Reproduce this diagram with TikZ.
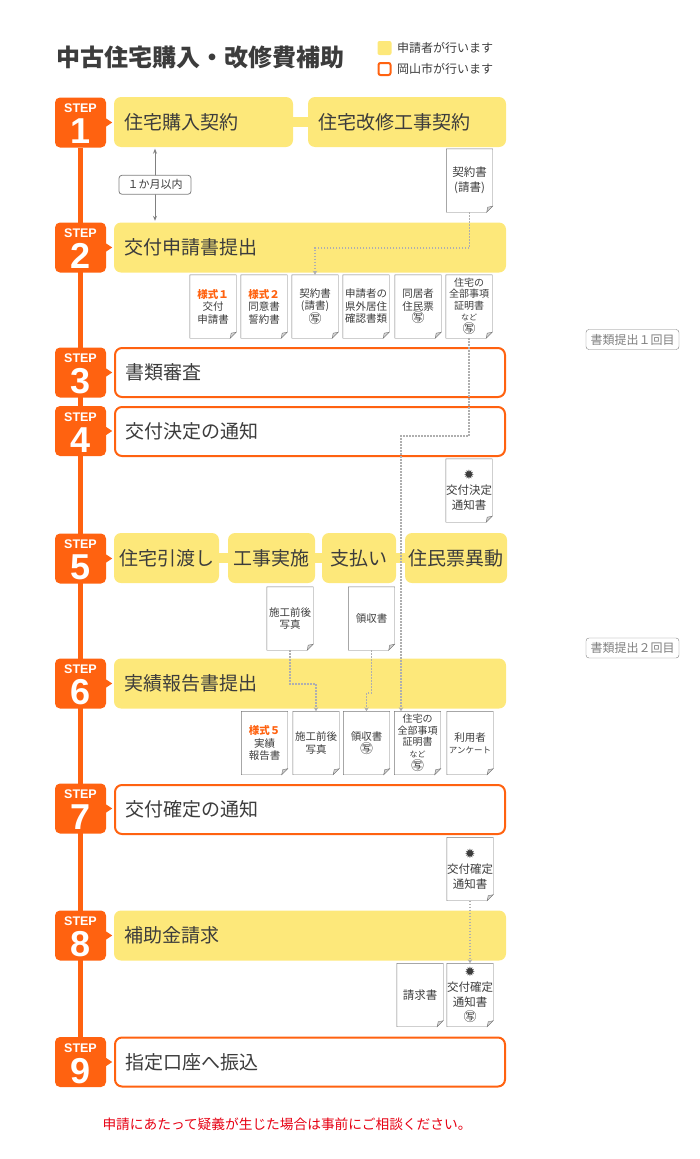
\documentclass[tikz,border=0pt]{standalone}
\usepackage{fontspec}
\setmainfont{Noto Sans CJK JP}
\newfontfamily\stepfont{Liberation Sans}
\newfontfamily\symfont{DejaVu Sans}
\usetikzlibrary{arrows.meta,backgrounds}
\definecolor{stepor}{RGB}{255,98,16}
\definecolor{appyel}{RGB}{253,232,122}
\definecolor{ink}{RGB}{60,60,60}
\definecolor{docline}{RGB}{120,120,120}
\definecolor{trailgray}{RGB}{175,175,175}
\definecolor{askred}{RGB}{230,0,18}
\newcommand\boxfont{\fontsize{19}{20}\selectfont}
\newcommand\docfont{\fontsize{10.5}{12.5}\selectfont}
\newcommand\docbig{\fontsize{11.5}{15}\selectfont}
\newcommand\docfull{\fontsize{10}{11.5}\selectfont}
\newcommand\cpy{{\fontsize{13}{12}\selectfont ㊢}}
\newcommand\emb{{\symfont\fontsize{13}{12}\selectfont ✹}}
\newcommand\nado{{\fontsize{8}{8}\selectfont など}}
\newcommand\paper[4][]{%
  \node[paper,#1] (#2) at (#3) {#4};
  \draw[docline] (#2.north west) -- (#2.north east) -- ([yshift=6pt]#2.south east) -- ([xshift=-6pt]#2.south east) -- (#2.south west) -- cycle;
  \filldraw[draw=docline, fill=gray!35] ([yshift=6pt]#2.south east) -- ([xshift=-6pt]#2.south east) -- ([shift={(-5pt,5pt)}]#2.south east) -- cycle;}

\begin{document}
\begin{tikzpicture}[x=1pt,y=-1pt,
  badge/.style={fill=stepor, rounded corners=5pt, minimum width=51pt, minimum height=50pt, inner sep=0pt},
  steplbl/.style={text=white, font=\stepfont\bfseries\fontsize{12.5}{12.5}\selectfont, inner sep=0pt, anchor=base},
  stepnum/.style={text=white, font=\stepfont\bfseries\fontsize{36}{36}\selectfont, inner sep=0pt, anchor=base},
  usr/.style={fill=appyel, rounded corners=7pt, minimum height=50pt, inner xsep=10pt, inner ysep=0pt, align=left, text=ink, font=\boxfont},
  cty/.style={draw=stepor, line width=2pt, fill=white, rounded corners=7pt, minimum height=49pt, text width=370pt, inner xsep=10pt, inner ysep=0pt, align=left, text=ink, font=\boxfont},
  band/.style={draw=appyel, line width=10pt},
  spine/.style={draw=stepor, line width=5pt},
  paper/.style={minimum width=46pt, minimum height=63pt, inner sep=0pt, align=center, text=ink, font=\docfont},
  trail/.style={draw=trailgray, line width=1.5pt, dash pattern=on 1.5pt off 1.5pt, -{Stealth[length=4pt,width=4.5pt]}},
  tag/.style={draw=gray, fill=white, rounded corners=3pt, minimum height=19pt, inner sep=2pt, text=ink, font=\fontsize{11}{11}\selectfont},
  span/.style={draw=gray, line width=0.8pt, {Stealth[length=5pt,width=4pt]}-{Stealth[length=5pt,width=4pt]}, shorten <=1.5pt, shorten >=1.5pt}]
\useasboundingbox (0,0) rectangle (700,1159);

\node[anchor=west, inner sep=0pt, text=ink, font=\bfseries\fontsize{24}{24}\selectfont] (title) at (56,57) {中古住宅購入・改修費補助};
\node[fill=appyel, rounded corners=2pt, minimum size=14pt, inner sep=0pt] (ky) at (384.5,48) {};
\node[anchor=west, inner sep=0pt, text=ink, font=\fontsize{12}{12}\selectfont] (kyt) at (397,48) {申請者が行います};
\node[draw=stepor, line width=2pt, rounded corners=2pt, minimum size=12pt, inner sep=0pt] (kc) at (384.5,69) {};
\node[anchor=west, inner sep=0pt, text=ink, font=\fontsize{12}{12}\selectfont] (kct) at (397,69) {岡山市が行います};

\foreach \n/\y in {1/122.5,2/247.5,3/372.5,4/431,5/558.5,6/683.5,7/808.5,8/935.5,9/1062}{
  \node[badge] (b\n) at (80.5,\y) {};
  \fill[stepor] ([yshift=4pt]b\n.east) -- ([xshift=6pt]b\n.east) -- ([yshift=-4pt]b\n.east) -- cycle;
  \node[steplbl] (bs\n) at (80.5,\y-10) {STEP};
  \node[stepnum] (bn\n) at (80.5,\y+21) {\n};
}
\begin{scope}[on background layer]
\draw[spine] (b1) -- (b9);
\end{scope}

\node[usr, text width=159pt] (s1a) at (203.5,122) {住宅購入契約};
\node[usr, text width=178pt] (s1b) at (407,122) {住宅改修工事契約};
\draw[band] (s1a.east) -- (s1b.west);
\node[usr, text width=372pt] (s2) at (310,247.5) {交付申請書提出};
\node[cty] (s3) at (310,372.5) {書類審査};
\node[cty] (s4) at (310,431.5) {交付決定の通知};
\node[usr, minimum width=105pt, inner xsep=2pt] (s5a) at (166.5,558) {住宅引渡し};
\node[usr, minimum width=87pt, inner xsep=2pt] (s5b) at (271.5,558) {工事実施};
\node[usr, minimum width=74pt, inner xsep=2pt] (s5c) at (359,558) {支払い};
\node[usr, minimum width=102pt, inner xsep=1pt] (s5d) at (456,558) {住民票異動};
\draw[band] (s5a.east) -- (s5b.west);
\draw[band] (s5b.east) -- (s5c.west);
\draw[band] (s5c.east) -- (s5d.west);
\node[usr, text width=372pt] (s6) at (310,683.5) {実績報告書提出};
\node[cty] (s7) at (310,809.5) {交付確定の通知};
\node[usr, text width=372pt] (s8) at (310,935.5) {補助金請求};
\node[cty] (s9) at (310,1062) {指定口座へ振込};

\draw[span] (s1a.south -| 155,0) -- node[tag, minimum width=72pt] (gap) {１か月以内} (s2.north -| 155,0);

\paper[font=\docbig]{d1}{469.5,180.5}{契約書\\(請書)}
\paper{d2a}{213,306.5}{\textcolor{stepor}{\bfseries 様式１}\\交付\\申請書}
\paper{d2b}{264,306.5}{\textcolor{stepor}{\bfseries 様式２}\\同意書\\誓約書}
\paper{d2c}{315,306.5}{契約書\\(請書)\\\cpy}
\paper{d2d}{366,306.5}{申請者の\\県外居住\\確認書類}
\paper{d2e}{418,306.5}{同居者\\住民票\\\cpy}
\paper[font=\docfull]{d2f}{469,306.5}{住宅の\\全部事項\\証明書\\\nado\\[1.5pt]\cpy}
\paper[font=\docbig]{d4}{469,490.5}{\emb\\交付決定\\通知書}
\paper{d5a}{290,618.5}{施工前後\\写真}
\paper{d5b}{371.5,618.5}{領収書}
\paper{d6a}{264.5,743}{\textcolor{stepor}{\bfseries 様式５}\\実績\\報告書}
\paper{d6b}{316,743}{施工前後\\写真}
\paper{d6c}{366.5,743}{領収書\\\cpy}
\paper[font=\docfull]{d6d}{417.5,743}{住宅の\\全部事項\\証明書\\\nado\\[1.5pt]\cpy}
\paper{d6e}{470,743}{利用者\\{\fontsize{8.5}{10}\selectfont アンケート}}
\paper[font=\docbig]{d7}{470,869}{\emb\\交付確定\\通知書}
\paper[font=\docbig]{d8a}{420,995}{請求書}
\paper[font=\docbig]{d8b}{470,995}{\emb\\交付確定\\通知書\\\cpy}

\draw[trail] (d1.south) -- (d1.south |- 0,248) -| (d2c.north);
\draw[trail] (d2f.south) -- (d2f.south |- 0,436) -| ([xshift=-16.5pt]d6d.north);
\draw[trail] (d5a.south) -- (d5a.south |- 0,684) -| (d6b.north);
\draw[trail] (d5b.south) -- (d5b.south |- 0,693) -| (d6c.north);
\draw[trail] (d7.south) -- (d8b.north);

\node[tag, text=gray, minimum width=93pt, minimum height=20pt, font=\fontsize{12}{12}\selectfont] (n1) at (632.5,339.5) {書類提出１回目};
\node[tag, text=gray, minimum width=93pt, minimum height=20pt, font=\fontsize{12}{12}\selectfont] (n2) at (632.5,648) {書類提出２回目};
\node[text=askred, inner sep=0pt, font=\fontsize{13.7}{14}\selectfont] (ask) at (287,1124) {申請にあたって疑義が生じた場合は事前にご相談ください。};
\end{tikzpicture}
\end{document}
